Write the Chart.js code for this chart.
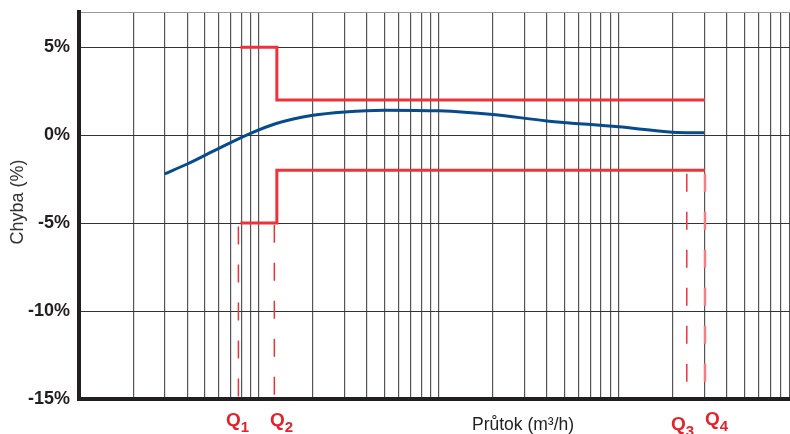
<!DOCTYPE html>
<html>
<head>
<meta charset="utf-8">
<script src="https://cdn.jsdelivr.net/npm/chart.js@4.4.1/dist/chart.umd.min.js"></script>
<style>
    body { margin: 0; background: #fff; }
    #wrap { width: 790px; height: 434px; }
</style>
</head>
<body>
<div id="wrap"><canvas id="errorChart" width="790" height="434"></canvas></div>
<script>
// error curve (flow in m3/h, error in %)
const flowValues = [3, 4, 6, 9, 12.5, 20, 30, 50, 100, 200, 400, 1000, 2000, 3000];
const errorValues = [-2.2, -1.64, -0.75, 0.1, 0.66, 1.13, 1.32, 1.42, 1.38, 1.17, 0.81, 0.47, 0.17, 0.13];

// maximum permissible error limits
const limitFlows = [7.9, 12.6, 12.6, 3030];
const upperLimit = [5, 5, 2, 2];
const lowerLimit = [-5, -5, -2, -2];

// Q1..Q4 markers
const qNames = ['1', '2', '3', '4'];
const qFlows = [7.7, 12.2, 2400, 3030];
const qTop = [-5.2, -5.1, -2.2, -2.2];
const qBottom = [-15, -15, -14.2, -14.2];

const yTicks = [-15, -10, -5, 0, 5, 7];
const xMin = 1;
const xMax = 9000;

const red = '#ee3338';

function gridFlows() {
    const out = [];
    for (let d = 1; d <= 1000; d *= 10) {
        for (let m = 1; m <= 9; m++) {
            if (m * d <= xMax) out.push(m * d);
        }
    }
    return out;
}

const markerDatasets = qFlows.map((q, i) => ({
    data: [{ x: q, y: qTop[i] }, { x: q, y: qBottom[i] }],
    borderColor: i === 3 ? '#f27f86' : red,
    borderWidth: i === 3 ? 2.5 : 1.5,
    borderDash: [18, 20],
    pointRadius: 0,
    tension: 0
}));

const textPlugin = {
    id: 'texts',
    afterDraw(chart) {
        const ctx = chart.ctx;
        const xs = chart.scales.x;
        ctx.save();

        ctx.fillStyle = '#333';
        ctx.font = '18px "Liberation Sans", Arial, sans-serif';
        ctx.textAlign = 'center';
        ctx.textBaseline = 'middle';
        ctx.translate(18, 202);
        ctx.rotate(-Math.PI / 2);
        ctx.fillText('Chyba (%)', 0, 0);
        ctx.setTransform(1, 0, 0, 1, 0, 0);

        ctx.fillStyle = '#222';
        ctx.font = '17.5px "Liberation Sans", Arial, sans-serif';
        ctx.textAlign = 'center';
        ctx.textBaseline = 'middle';
        ctx.fillText('Průtok (m³/h)', 523, 425);

        const dx = [-12, -4, -16, 0];
        const dy = [0, 0, 4, -1];
        ctx.fillStyle = '#e8202a';
        ctx.textAlign = 'left';
        ctx.textBaseline = 'alphabetic';
        qFlows.forEach((q, i) => {
            const x = Math.round(xs.getPixelForValue(q)) + dx[i];
            const y = 426 + dy[i];
            ctx.font = 'bold 19px "Liberation Sans", Arial, sans-serif';
            ctx.fillText('Q', x, y);
            const w = ctx.measureText('Q').width;
            ctx.font = 'bold 15px "Liberation Sans", Arial, sans-serif';
            ctx.fillText(qNames[i], x + w, y + 6);
        });
        ctx.restore();
    }
};

new Chart(document.getElementById('errorChart'), {
    type: 'line',
    data: {
        datasets: [
            {
                data: flowValues.map((x, i) => ({ x, y: errorValues[i] })),
                borderColor: '#064b8e',
                borderWidth: 3,
                pointRadius: 0,
                cubicInterpolationMode: 'monotone'
            },
            {
                data: limitFlows.map((x, i) => ({ x, y: upperLimit[i] })),
                borderColor: red,
                borderWidth: 3,
                pointRadius: 0,
                tension: 0
            },
            {
                data: limitFlows.map((x, i) => ({ x, y: lowerLimit[i] })),
                borderColor: red,
                borderWidth: 3,
                pointRadius: 0,
                tension: 0
            },
            ...markerDatasets
        ]
    },
    options: {
        responsive: false,
        animation: false,
        devicePixelRatio: 1,
        layout: { padding: { top: 12, left: 0, right: 0, bottom: 0 } },
        plugins: { legend: { display: false }, tooltip: { enabled: false } },
        scales: {
            x: {
                type: 'logarithmic',
                min: xMin,
                max: xMax,
                afterBuildTicks: s => { s.ticks = gridFlows().map(v => ({ value: v })); },
                afterFit: s => { s.height = 35; s.paddingLeft = 0; s.paddingRight = 0; },
                ticks: { display: false },
                grid: { color: '#555', lineWidth: 1.2, drawTicks: false },
                border: { color: '#231f20', width: 4 }
            },
            y: {
                min: -15,
                max: 7,
                afterBuildTicks: s => { s.ticks = yTicks.map(v => ({ value: v })); },
                afterFit: s => { s.width = 79; s.paddingTop = 0; s.paddingBottom = 0; },
                ticks: {
                    padding: 9,
                    color: '#231f20',
                    font: { family: '"Liberation Sans", Arial, sans-serif', size: 18, weight: 'bold' },
                    callback: v => v === 7 ? '' : v + '%'
                },
                grid: {
                    drawTicks: false,
                    color: c => c.tick && c.tick.value === 7 ? '#999' : '#333',
                    lineWidth: 1
                },
                border: { color: '#231f20', width: 4 }
            }
        }
    },
    plugins: [textPlugin]
});
</script>
</body>
</html>
